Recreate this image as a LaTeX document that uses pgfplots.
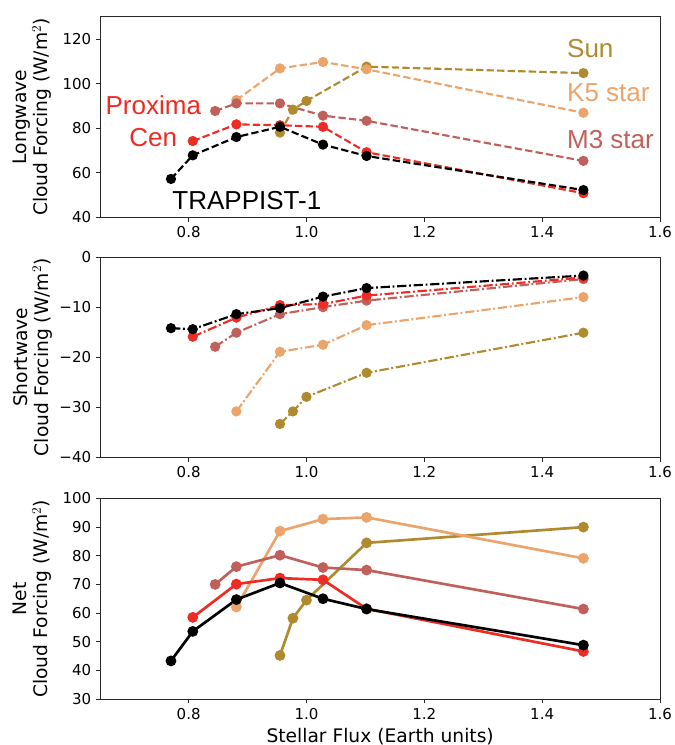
\documentclass[border=0pt]{standalone}
\usepackage{fontspec}
\setmainfont{DejaVu Sans}
\newfontfamily\annfont{Liberation Sans}
\usepackage{pgfplots}
\pgfplotsset{compat=1.18}
\definecolor{cSun}{HTML}{B08A2E}
\definecolor{cK5}{HTML}{EBA46C}
\definecolor{cM3}{HTML}{C0605C}
\definecolor{cPro}{HTML}{EE2B24}
\definecolor{cTra}{HTML}{000000}
\tikzset{
  lw/.style={line width=1.6pt, dash pattern=on 5.5pt off 2.4pt},
  sw/.style={line width=1.6pt, dash pattern=on 7pt off 2pt on 1.4pt off 2pt},
  nt/.style={line width=2pt, solid},
  ann/.style={font=\annfont\fontsize{19.5}{23}\selectfont, inner sep=0pt},
}
\pgfplotsset{
  panel/.style={
    width=419.8pt, height=150.4pt, scale only axis,
    xmin=0.65, xmax=1.6,
    xtick={0.8,1.0,1.2,1.4,1.6}, xticklabels={0.8,1.0,1.2,1.4,1.6},
    tick align=outside, xtick pos=bottom, ytick pos=left,
    major tick length=3.3pt,
    tick style={black!85, line width=0.6pt},
    axis line style={black!85, line width=0.6pt},
    ticklabel style={font=\fontsize{11.25}{13}\selectfont},
    label style={font=\fontsize{14}{15.75}\selectfont, align=center},
    /pgf/number format/assume math mode=true,
    ylabel style={at={(axis description cs:-0.121,0.5)}, anchor=center},
    every axis plot/.append style={mark=*, mark size=3pt, mark options={solid}},
  },
}
\begin{document}
\begin{tikzpicture}
\useasboundingbox (-75.2pt,-34.5pt) rectangle (431.0pt,524.25pt);
% Longwave
\begin{axis}[panel, at={(0,361.3pt)}, anchor=south west,
  ymin=40, ymax=130, ytick={40,60,80,100,120},
  ylabel={Longwave\\Cloud Forcing (W/m$^2$)}]
\addplot[cSun, lw] coordinates {(0.955,78.0) (0.977,88.3) (1.000,92.2) (1.102,107.6) (1.470,104.7)};
\addplot[cK5, lw] coordinates {(0.881,92.6) (0.955,106.8) (1.028,109.7) (1.102,106.4) (1.470,86.9)};
\addplot[cM3, lw] coordinates {(0.845,87.7) (0.881,91.1) (0.955,91.1) (1.028,85.6) (1.102,83.3) (1.470,65.3)};
\addplot[cPro, lw] coordinates {(0.807,74.2) (0.881,81.7) (0.955,81.3) (1.028,80.6) (1.102,69.2) (1.470,50.8)};
\addplot[cTra, lw] coordinates {(0.770,57.2) (0.807,67.8) (0.881,76.0) (0.955,80.6) (1.028,72.6) (1.102,67.5) (1.470,52.2)};
\node[ann, text=cSun, anchor=base west] at (axis cs:1.442,111.8) {Sun};
\node[ann, text=cK5, anchor=base west] at (axis cs:1.442,91.9) {K5 star};
\node[ann, text=cM3, anchor=base west] at (axis cs:1.442,71.0) {M3 star};
\node[ann, text=cTra, anchor=base west] at (axis cs:0.772,43.3) {TRAPPIST-1};
\node[ann, text=cPro, anchor=base] at (axis cs:0.74,85.9) {Proxima};
\node[ann, text=cPro, anchor=base] at (axis cs:0.74,71.7) {Cen};
\end{axis}
% Shortwave
\begin{axis}[panel, at={(0,181.1pt)}, anchor=south west,
  ymin=-40, ymax=0, ytick={-40,-30,-20,-10,0},
  yticklabels={−40,−30,−20,−10,0},
  ylabel={Shortwave\\Cloud Forcing (W/m$^2$)}]
\addplot[cSun, sw] coordinates {(0.955,-33.3) (0.977,-30.8) (1.000,-27.9) (1.102,-23.1) (1.470,-15.1)};
\addplot[cK5, sw] coordinates {(0.881,-30.8) (0.955,-18.9) (1.028,-17.5) (1.102,-13.6) (1.470,-8.0)};
\addplot[cM3, sw] coordinates {(0.845,-17.9) (0.881,-15.1) (0.955,-11.4) (1.028,-10.0) (1.102,-8.7) (1.470,-4.4)};
\addplot[cPro, sw] coordinates {(0.807,-15.9) (0.881,-12.1) (0.955,-9.6) (1.028,-9.4) (1.102,-7.7) (1.470,-4.1)};
\addplot[cTra, sw] coordinates {(0.770,-14.2) (0.807,-14.4) (0.881,-11.4) (0.955,-10.2) (1.028,-7.9) (1.102,-6.2) (1.470,-3.7)};
\end{axis}
% Net
\begin{axis}[panel, at={(0,0)}, anchor=south west,
  ymin=30, ymax=100, ytick={30,40,50,60,70,80,90,100},
  ylabel={Net\\Cloud Forcing (W/m$^2$)},
  xlabel={Stellar Flux (Earth units)}]
\addplot[cSun, nt] coordinates {(0.955,45.2) (0.977,58.2) (1.000,64.5) (1.102,84.5) (1.470,90.0)};
\addplot[cK5, nt] coordinates {(0.881,62.1) (0.955,88.6) (1.028,92.8) (1.102,93.4) (1.470,79.1)};
\addplot[cM3, nt] coordinates {(0.845,70.0) (0.881,76.2) (0.955,80.2) (1.028,75.9) (1.102,75.0) (1.470,61.4)};
\addplot[cPro, nt] coordinates {(0.807,58.5) (0.881,70.1) (0.955,72.2) (1.028,71.6) (1.102,61.5) (1.470,46.6)};
\addplot[cTra, nt] coordinates {(0.770,43.3) (0.807,53.6) (0.881,64.7) (0.955,70.5) (1.028,65.0) (1.102,61.4) (1.470,48.8)};
\end{axis}
\end{tikzpicture}
\end{document}
